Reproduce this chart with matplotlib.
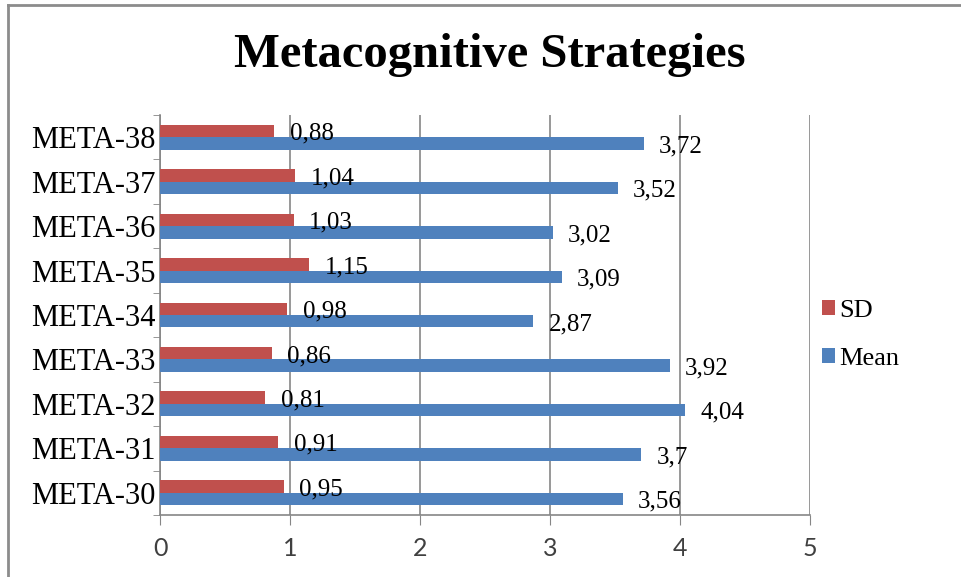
import matplotlib.pyplot as plt
import matplotlib.lines as mlines
import numpy as np

categories = ["META-30", "META-31", "META-32", "META-33", "META-34",
              "META-35", "META-36", "META-37", "META-38"]
sd = [0.95, 0.91, 0.81, 0.86, 0.98, 1.15, 1.03, 1.04, 0.88]
mean = [3.56, 3.7, 4.04, 3.92, 2.87, 3.09, 3.02, 3.52, 3.72]
sd_labels = ["0,95", "0,91", "0,81", "0,86", "0,98", "1,15", "1,03", "1,04", "0,88"]
mean_labels = ["3,56", "3,7", "4,04", "3,92", "2,87", "3,09", "3,02", "3,52", "3,72"]

serif = "Liberation Serif"
red = "#C0504D"
blue = "#4F81BD"
grid_col = "#868686"

fig = plt.figure(figsize=(9.62, 5.77), dpi=100)
ax = fig.add_axes([160 / 962, 1 - 515 / 577, 650 / 962, 400 / 577])

y = np.arange(len(categories))
h = 0.28
b_sd = ax.barh(y + h / 2, sd, height=h, color=red, label="SD", zorder=3)
b_mean = ax.barh(y - h / 2, mean, height=h, color=blue, label="Mean", zorder=3)

for bars, labels in ((b_sd, sd_labels), (b_mean, mean_labels)):
    for bar, lab in zip(bars, labels):
        ax.annotate(lab, (bar.get_width(), bar.get_y() + bar.get_height() / 2),
                    xytext=(11, -2), textcoords="offset points",
                    ha="left", va="center", fontsize=18, family=serif)

ax.set_xlim(0, 5)
ax.set_ylim(-0.5, len(categories) - 0.5)
ax.set_xticks(range(6))
ax.set_yticks(y)
ax.set_yticklabels(categories, family=serif, fontsize=22)
ax.set_yticks(np.arange(-0.5, len(categories), 1), minor=True)
ax.tick_params(axis="y", which="major", length=0, pad=3)
ax.tick_params(axis="y", which="minor", length=5, color=grid_col, direction="out")
ax.tick_params(axis="x", length=7, color=grid_col, labelsize=18,
               labelcolor="#404040", pad=9)
for t in ax.get_xticklabels():
    t.set_family("Lato")

ax.grid(axis="x", color=grid_col, linewidth=1.2, zorder=0)
for side in ("top", "right"):
    ax.spines[side].set_visible(False)
for side in ("left", "bottom"):
    ax.spines[side].set_color(grid_col)
    ax.spines[side].set_linewidth(1.2)

handles, labels = ax.get_legend_handles_labels()
fig.legend(handles, labels, loc="center left", bbox_to_anchor=(822 / 962, 1 - 335 / 577),
           frameon=False, prop={"family": serif, "size": 19}, borderpad=0, borderaxespad=0,
           handlelength=0.5, handleheight=0.5, handletextpad=0.15, labelspacing=1.0)

fig.text(490 / 962, 1 - 55 / 577, "Metacognitive Strategies", ha="center", va="center",
         fontsize=35, fontweight="bold", family=serif)

# chart frame (top and left edges visible)
fig.add_artist(mlines.Line2D([8 / 962, 8 / 962], [0, 1 - 5 / 577],
                             transform=fig.transFigure, color="#8c8c8c", linewidth=2))
fig.add_artist(mlines.Line2D([8 / 962, 1], [1 - 5 / 577, 1 - 5 / 577],
                             transform=fig.transFigure, color="#8c8c8c", linewidth=2))

plt.savefig("out.png", dpi=100)
plt.close()
